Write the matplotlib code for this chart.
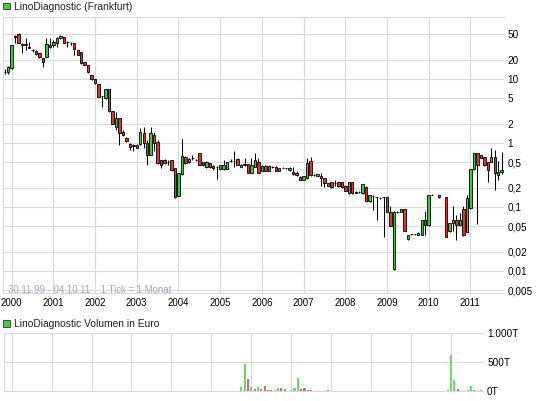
import matplotlib
matplotlib.use("Agg")
import matplotlib.pyplot as plt
from matplotlib.patches import Rectangle
from matplotlib.ticker import FixedLocator, NullFormatter
import numpy as np

plt.rcParams['font.family'] = ['Liberation Sans', 'DejaVu Sans']

# monthly candles, first one = Nov 1999, last one = Oct 2011 (None = no trade)
first_month = -2   # months relative to Jan 2000
opens = [13.0, 13.0, 14.7, 46.0, 50.5, 35.5, 34.8, 32.0, 28.4, 27.4, 25.2, 21.1,
         22.3, 31.3, 34.0, 36.1, 43.2, 44.8, 37.4, 36.9, 36.1, 28.4, 26.1, 18.2,
         16.5, 11.5, 9.9, 8.35, 5.43, 4.99, 6.9, 3.16, 1.76, 2.43, 1.5, 1.18,
         0.965, 0.93, 0.93, 0.955, 1.42, 0.99, 0.649, 1.33, 1.05, 0.542, 0.542, 0.505,
         0.542, 0.405, 0.151, 0.33, 0.61, 0.505, 0.58, 0.545, 0.69, 0.5, 0.415, 0.48,
         0.44, 0.425, 0.392, 0.392, 0.393, 0.52, 0.525, 0.562, 0.425, 0.465, 0.465, 0.343,
         0.425, 0.496, 0.365, 0.443, 0.365, 0.42, 0.425, 0.37, 0.41, 0.4, 0.379, 0.356,
         0.343, 0.298, 0.264, 0.28, 0.515, 0.318, 0.305, 0.305, 0.281, 0.213, 0.242, 0.236,
         0.242, 0.242, 0.21, 0.165, 0.242, 0.17, 0.17, 0.165, 0.203, 0.123, 0.149, 0.143,
         0.14, 0.142, 0.143, 0.0845, 0.0106, 0.0845, 0.0835, 0.0925, 0.0316, 0.0375, 0.0375, 0.0365,
         0.0365, 0.0625, 0.0524, 0.155, None, 0.153, None, 0.143, 0.0415, 0.0555, 0.0625, 0.0524,
         0.0925, 0.041, 0.095, 0.388, 0.69, 0.649, 0.6, 0.505, 0.51, 0.61, 0.316, 0.352]
highs = [14.2, 15.8, 34.5, 48.0, 53.0, 37.0, 43.0, 38.0, 29.8, 28.0, 25.5, 21.3,
         43.0, 43.0, 40.7, 45.8, 48.7, 45.8, 39.2, 37.5, 36.9, 28.6, 26.3, 18.5,
         16.7, 11.6, 10.0, 8.4, 5.5, 6.95, 7.0, 3.2, 3.0, 2.5, 1.6, 1.25,
         1.0, 0.96, 0.95, 1.72, 1.78, 1.1, 1.76, 1.5, 1.1, 0.55, 0.56, 0.542,
         0.55, 0.41, 0.345, 1.14, 0.62, 0.58, 0.65, 0.56, 0.70, 0.51, 0.52, 0.49,
         0.45, 0.43, 0.46, 0.542, 0.51, 0.56, 0.75, 0.58, 0.47, 0.58, 0.47, 0.583,
         0.69, 0.58, 0.45, 0.45, 0.46, 0.44, 0.43, 0.41, 0.42, 0.41, 0.42, 0.42,
         0.365, 0.3, 0.31, 0.58, 0.61, 0.33, 0.33, 0.34, 0.285, 0.24, 0.25, 0.264,
         0.25, 0.25, 0.22, 0.25, 0.25, 0.175, 0.18, 0.23, 0.21, 0.156, 0.152, 0.145,
         0.142, 0.145, 0.145, 0.102, 0.086, 0.086, 0.094, 0.094, 0.037, 0.038, 0.038, 0.04,
         0.063, 0.087, 0.156, 0.157, None, 0.155, None, 0.145, 0.056, 0.102, 0.075, 0.08,
         0.102, 0.154, 0.39, 0.70, 0.70, 0.66, 0.61, 0.51, 0.83, 0.78, 0.52, 0.73]
lows = [11.8, 11.8, 14.5, 37.0, 36.0, 25.2, 28.4, 30.0, 26.7, 24.0, 21.5, 15.2,
        22.0, 30.2, 32.0, 32.0, 42.0, 36.1, 31.3, 34.0, 23.7, 23.5, 17.4, 16.3,
        12.5, 9.8, 8.5, 5.2, 3.69, 4.9, 3.1, 1.95, 1.6, 0.93, 1.28, 1.05,
        0.78, 0.76, 0.84, 0.94, 0.835, 0.453, 0.64, 0.75, 0.47, 0.407, 0.47, 0.453,
        0.37, 0.14, 0.148, 0.32, 0.47, 0.49, 0.54, 0.52, 0.45, 0.44, 0.41, 0.41,
        0.38, 0.27, 0.39, 0.385, 0.39, 0.5, 0.425, 0.45, 0.42, 0.437, 0.34, 0.34,
        0.42, 0.34, 0.36, 0.36, 0.36, 0.41, 0.36, 0.365, 0.4, 0.39, 0.37, 0.32,
        0.31, 0.26, 0.26, 0.275, 0.31, 0.31, 0.3, 0.213, 0.205, 0.21, 0.2, 0.21,
        0.205, 0.2, 0.175, 0.16, 0.16, 0.165, 0.165, 0.16, 0.12, 0.12, 0.09, 0.0627,
        0.135, 0.0335, 0.083, 0.05, 0.0105, 0.082, 0.083, 0.042, 0.031, 0.037, 0.037, 0.036,
        0.036, 0.0365, 0.05, 0.152, None, 0.14, None, 0.034, 0.041, 0.0415, 0.0305, 0.05,
        0.035, 0.04, 0.093, 0.38, 0.054, 0.58, 0.44, 0.25, 0.5, 0.184, 0.264, 0.33]
closes = [13.1, 15.4, 34.0, 47.5, 36.1, 34.5, 33.6, 30.2, 28.2, 24.3, 21.8, 18.6,
          35.2, 34.0, 38.3, 43.2, 47.0, 36.9, 37.2, 36.7, 29.1, 23.7, 17.6, 16.5,
          12.7, 9.9, 8.57, 5.29, 5.35, 6.9, 3.16, 1.98, 2.43, 1.45, 1.33, 1.09,
          0.875, 0.9, 0.845, 1.47, 0.99, 0.649, 1.42, 0.99, 0.48, 0.453, 0.49, 0.5,
          0.379, 0.145, 0.342, 0.626, 0.485, 0.556, 0.575, 0.54, 0.453, 0.453, 0.51, 0.415,
          0.405, 0.42, 0.453, 0.453, 0.497, 0.515, 0.52, 0.453, 0.46, 0.46, 0.343, 0.453,
          0.542, 0.343, 0.443, 0.365, 0.443, 0.418, 0.365, 0.402, 0.408, 0.402, 0.411, 0.325,
          0.316, 0.264, 0.305, 0.482, 0.316, 0.316, 0.323, 0.281, 0.235, 0.235, 0.203, 0.235,
          0.21, 0.205, 0.18, 0.242, 0.165, 0.168, 0.171, 0.227, 0.123, 0.154, 0.148, 0.142,
          0.139, 0.141, 0.0845, 0.051, 0.0845, 0.084, 0.0925, 0.0424, 0.036, 0.0372, 0.0372, 0.0395,
          0.0625, 0.0524, 0.154, 0.154, None, 0.142, None, 0.0345, 0.0555, 0.0625, 0.0524, 0.0625,
          0.0365, 0.14, 0.388, 0.69, 0.453, 0.59, 0.453, 0.379, 0.61, 0.337, 0.356, 0.379]

# volume in thousand euro, from Oct 2005 on ('u' up, 'd' down, 'n' unchanged)
vol_first_month = 69
vol_t = [62, 460, 199, 62, 34, 62, 34, 85, 17, 17, 17, 45, 45, 28, 6, 17, 45, 216,
         40, 51, 23, 17, 6, 6, 6, 6, 17, 6, 6, 6, 6, 6, 6, 6, 6, 6, 6, 4, 4, 4,
         0, 0, 0, 0, 0, 4, 0, 0, 4, 4, 4, 0, 0, 0, 0, 0, 4, 4, 4, 4, 4, 6, 17,
         613, 187, 28, 6, 6, 17, 85, 17, 6, 11]
vol_dir = ['u', 'u', 'd', 'u', 'd', 'u', 'd', 'd', 'd', 'd', 'n', 'u', 'd', 'd', 'd', 'u', 'u', 'u',
           'd', 'd', 'd', 'd', 'd', 'd', 'd', 'd', 'd', 'd', 'u', 'd', 'u', 'u', 'u', 'd', 'd', 'u', 'd', 'd', 'd', 'd',
           'n', 'n', 'n', 'n', 'n', 'n', 'n', 'n', 'd', 'u', 'd', 'n', 'n', 'n', 'n', 'n', 'u', 'u', 'u', 'u', 'u', 'u', 'u',
           'u', 'u', 'd', 'd', 'd', 'u', 'u', 'd', 'd', 'u']

years = [str(y) for y in range(2000, 2012)]
price_ticks = [50, 20, 10, 5, 2, 1, 0.5, 0.2, 0.1, 0.05, 0.02, 0.01, 0.005]
price_labels = ['50', '20', '10', '5', '2', '1', '0,5', '0,2', '0,1', '0,05', '0,02', '0,01', '0,005']
vol_ticks = [0, 500, 1000]
vol_labels = ['0T', '500T', '1.000T']

GREEN = '#33cc33'
RED = '#e03434'
GRID = '#dadada'
W, H = 545, 401

fig = plt.figure(figsize=(W / 100, H / 100), dpi=100)
fig.patch.set_facecolor('white')

def px_axes(l, t, r, b):
    return fig.add_axes([l / W, 1 - b / H, (r - l) / W, (b - t) / H])

ax0 = px_axes(2.7, 17, 504, 293)
ax1 = px_axes(4, 333, 483.5, 391)

# candles
x = np.arange(len(opens)) + first_month
for xi, o, hi, lo, c in zip(x, opens, highs, lows, closes):
    if o is None:
        continue
    ax0.vlines(xi, lo, hi, color='black', linewidth=0.75, zorder=3)
    col = GREEN if c >= o else RED
    bot, top = min(o, c), max(o, c)
    ax0.bar(xi, top - bot, bottom=bot, width=0.7, color=col, edgecolor='black',
            linewidth=0.6, zorder=4)

ax0.set_yscale('log')
ax0.set_xlim(-2.59, 141.67)
ax0.set_ylim(0.00453, 93.1)
ax0.yaxis.set_major_locator(FixedLocator(price_ticks))
ax0.yaxis.set_minor_locator(FixedLocator([]))
ax0.set_yticklabels(price_labels)
ax0.yaxis.set_minor_formatter(NullFormatter())
ax0.set_xticks(np.arange(0, 12 * len(years), 12))
ax0.set_xticklabels(years)
ax0.yaxis.tick_right()
ax0.tick_params(axis='y', which='both', length=0, pad=2.6, labelsize=7.2)
ax0.tick_params(axis='x', length=0, pad=3.4, labelsize=6.9)
ax0.grid(True, color=GRID, linewidth=0.8, zorder=0)
ax0.set_axisbelow(True)
for side in ['left', 'top', 'bottom']:
    ax0.spines[side].set_color(GRID)
    ax0.spines[side].set_linewidth(0.8)
ax0.spines['right'].set_visible(False)

ax0.text(0.011, 0.012, '30.11.99 - 04.10.11    1 Tick = 1 Monat', transform=ax0.transAxes,
         fontsize=6.9, color='#a2a9c2', ha='left', va='center')

# volume
vx = np.arange(len(vol_t)) + vol_first_month
vcols = {'u': '#66dd66', 'd': '#e06868', 'n': '#bbbbbb'}
ax1.bar(vx, vol_t, width=0.65, color=[vcols[d] for d in vol_dir], zorder=3)
ax1.set_xlim(-2.31, 141.77)
ax1.set_ylim(0, 1000)
ax1.set_xticks(np.arange(0, 12 * len(years), 12))
ax1.set_xticklabels([])
ax1.set_yticks(vol_ticks)
ax1.set_yticklabels(vol_labels)
ax1.yaxis.tick_right()
ax1.tick_params(axis='both', length=0, pad=2.6, labelsize=7.2)
ax1.grid(True, color=GRID, linewidth=0.8, zorder=0)
ax1.set_axisbelow(True)
for side in ['left', 'top', 'bottom']:
    ax1.spines[side].set_color(GRID)
    ax1.spines[side].set_linewidth(0.8)
ax1.spines['right'].set_visible(False)

# legend boxes
for ytop, label in [(2.7, 'LinoDiagnostic (Frankfurt)'), (320, 'LinoDiagnostic Volumen in Euro')]:
    fig.patches.append(Rectangle((3.3 / W, 1 - (ytop + 6.7) / H), 6.7 / W, 6.7 / H,
                                 transform=fig.transFigure, facecolor='#44cc44',
                                 edgecolor='#333333', linewidth=0.6))
    fig.text(13.5 / W, 1 - (ytop + 3.8) / H, label, fontsize=7.4, color='#222222',
             ha='left', va='center')

fig.savefig('out.png', dpi=100, facecolor='white')
